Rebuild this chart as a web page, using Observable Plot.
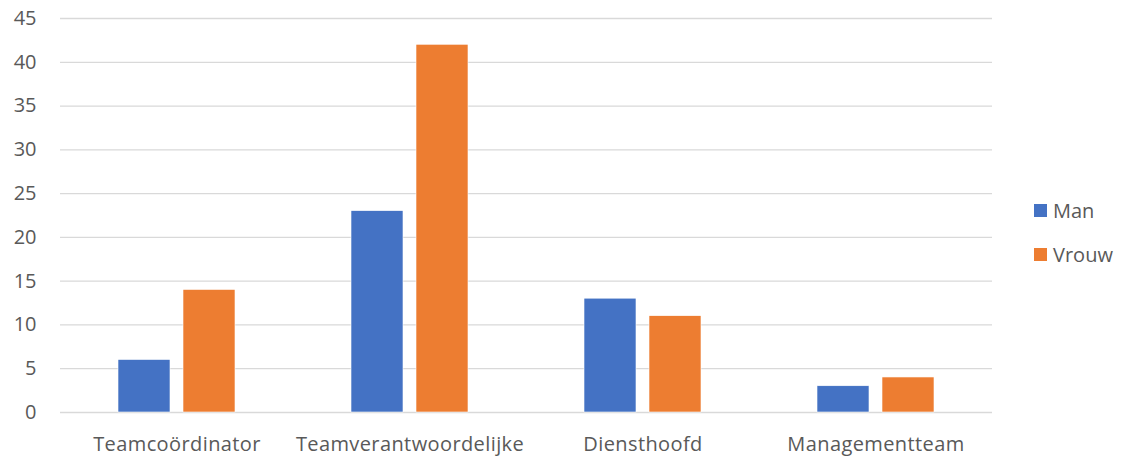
<!DOCTYPE html>
<html>
<head>
<meta charset="utf-8">
<script src="https://cdn.jsdelivr.net/npm/d3@7"></script>
<script src="https://cdn.jsdelivr.net/npm/@observablehq/plot@0.6"></script>
<style>
  html, body { margin: 0; padding: 0; background: #fff; }
  #wrap { position: relative; width: 1122px; height: 456px; font-family: "Open Sans", sans-serif; }
  .item { position: absolute; left: 1034px; display: flex; align-items: center; height: 27px; color: #595959; font-size: 20px; line-height: 27px; }
  .sw { width: 13px; height: 13px; margin-right: 6px; }
  svg g[aria-label="fx-axis tick label"] text { letter-spacing: 0.4px; }
</style>
</head>
<body>
<div id="wrap"><div id="chart"></div></div>
<script>
const categories = ["Teamcoördinator", "Teamverantwoordelijke", "Diensthoofd", "Managementteam"];
const seriesNames = ["Man", "Vrouw"];
const manValues = [6, 23, 13, 3];
const vrouwValues = [14, 42, 11, 4];
const yTicks = [0, 5, 10, 15, 20, 25, 30, 35, 40, 45];
const colors = ["#4472C4", "#ED7D31"];

const data = [];
categories.forEach((c, i) => {
  data.push({category: c, series: "Man", value: manValues[i]});
  data.push({category: c, series: "Vrouw", value: vrouwValues[i]});
});

const chart = Plot.plot({
  width: 1010,
  height: 456,
  marginLeft: 59,
  marginRight: 17,
  marginTop: 18,
  marginBottom: 44,
  style: {fontFamily: "'Open Sans', sans-serif", fontSize: "20px", color: "#595959", background: "#fff"},
  fx: {domain: categories, padding: 0, label: null, axis: "bottom", tickSize: 0, tickPadding: 24},
  x: {domain: seriesNames, paddingInner: 0.2, paddingOuter: 0.87, axis: null},
  y: {domain: [0, 45], ticks: yTicks, label: null, tickSize: 0, tickPadding: 24},
  color: {domain: seriesNames, range: colors},
  marks: [
    Plot.ruleY(yTicks, {stroke: "#D9D9D9", strokeWidth: 1.3}),
    Plot.barY(data, {fx: "category", x: "series", y: "value", fill: "series", stroke: "white", strokeWidth: 0.6})
  ]
});
document.getElementById("chart").appendChild(chart);

const wrap = document.getElementById("wrap");
const legendTops = [197, 241];
seriesNames.forEach((s, i) => {
  const it = document.createElement("div");
  it.className = "item";
  it.style.top = legendTops[i] + "px";
  const sw = document.createElement("div");
  sw.className = "sw";
  sw.style.background = colors[i];
  const t = document.createElement("span");
  t.textContent = s;
  it.appendChild(sw); it.appendChild(t);
  wrap.appendChild(it);
});
</script>
</body>
</html>
